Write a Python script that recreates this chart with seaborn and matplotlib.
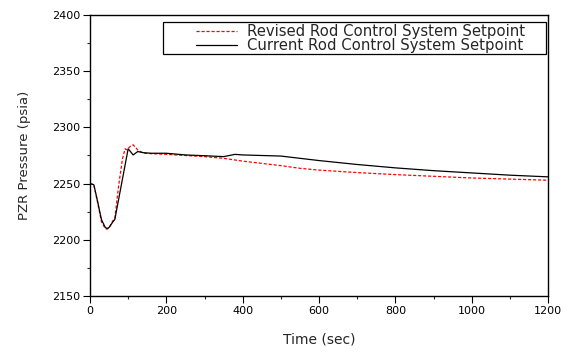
import matplotlib
matplotlib.use("Agg")
import matplotlib.pyplot as plt
from matplotlib.ticker import MultipleLocator
from matplotlib.patches import Rectangle
import seaborn as sns
import pandas as pd

time_cur = [0, 10, 20, 30, 40, 45, 50, 60, 65, 100, 113, 125, 140, 160, 200, 250, 300, 350, 380, 400, 450, 500, 600, 700, 800, 900, 1000, 1100, 1200]
p_cur = [2250, 2249, 2234, 2218, 2211, 2210, 2211, 2216, 2218, 2281, 2275.5, 2278.5, 2277.5, 2277, 2277, 2275.5, 2274.8, 2274, 2276, 2275.5, 2275, 2274.5, 2270.5, 2267, 2264, 2261.5, 2259.5, 2257.5, 2256]

time_rev = [0, 10, 20, 30, 40, 45, 50, 60, 65, 75, 85, 92, 97, 105, 113, 125, 140, 200, 250, 300, 350, 400, 450, 500, 550, 600, 700, 800, 900, 1000, 1100, 1200]
p_rev = [2250, 2249, 2233, 2216, 2210, 2209.5, 2210.5, 2217, 2219, 2248, 2272, 2281, 2280, 2283, 2284.5, 2280, 2277, 2276, 2275, 2274, 2272.5, 2270, 2268, 2266, 2263.6, 2262, 2259.8, 2258, 2256.5, 2255, 2254, 2253]

label_rev = "Revised Rod Control System Setpoint"
label_cur = "Current Rod Control System Setpoint"

sns.set_theme(style="ticks")
plt.rcParams['font.family'] = ['DejaVu Sans']

fig = plt.figure(figsize=(5.72, 3.6), dpi=100)
ax = fig.add_axes([90/572, 1-296/360, (548-90)/572, (296-15)/360])

df_rev = pd.DataFrame({"t": time_rev, "p": p_rev})
df_cur = pd.DataFrame({"t": time_cur, "p": p_cur})
sns.lineplot(data=df_rev, x="t", y="p", ax=ax, color="red", lw=0.9,
             linestyle=(0, (2.5, 1.5)), label=label_rev)
sns.lineplot(data=df_cur, x="t", y="p", ax=ax, color="black", lw=0.9,
             label=label_cur)

ax.set_xlim(0, 1200)
ax.set_ylim(2150, 2400)
ax.xaxis.set_major_locator(MultipleLocator(200))
ax.xaxis.set_minor_locator(MultipleLocator(100))
ax.yaxis.set_major_locator(MultipleLocator(50))
ax.yaxis.set_minor_locator(MultipleLocator(25))
ax.tick_params(which="major", direction="out", length=5, width=0.8, labelsize=8, colors="black", pad=2)
ax.tick_params(which="minor", direction="out", length=2.5, width=0.8)
for s in ax.spines.values():
    s.set_linewidth(1.0)
    s.set_color("black")

ax.set_xlabel("Time (sec)", fontsize=10, labelpad=12)
ax.set_ylabel("PZR Pressure (psia)", fontsize=9.5, labelpad=15)

# legend frame drawn as a box in axes coordinates
ax.add_patch(Rectangle((0.159, 0.861), 0.996 - 0.159, 0.975 - 0.861,
                       transform=ax.transAxes, fill=True, facecolor="white",
                       edgecolor="black", lw=0.9, zorder=4))
leg = ax.legend(loc="upper left", bbox_to_anchor=(0.231, 0.967), fontsize=10.7,
                frameon=False, handlelength=2.75, borderpad=0,
                labelspacing=-0.08, handletextpad=0.67, borderaxespad=0)
leg.set_zorder(5)

fig.savefig("out.png", dpi=100)
